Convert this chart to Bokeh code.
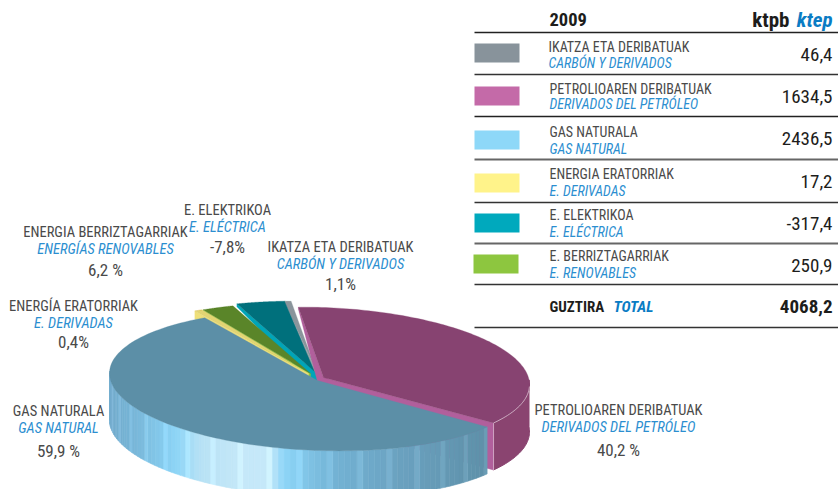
import numpy as np
from bokeh.plotting import figure
from bokeh.models import Range1d
from bokeh.core.properties import value
from bokeh.embed import file_html
from bokeh.resources import INLINE

# ---------- data ----------
year = "2009"
unit_eu = "ktpb"
unit_es = "ktep"
names_eu = ["IKATZA ETA DERIBATUAK", "PETROLIOAREN DERIBATUAK", "GAS NATURALA",
            "ENERGIA ERATORRIAK", "E. ELEKTRIKOA", "E. BERRIZTAGARRIAK"]
names_es = ["CARBÓN Y DERIVADOS", "DERIVADOS DEL PETRÓLEO", "GAS NATURAL",
            "E. DERIVADAS", "E. ELÉCTRICA", "E. RENOVABLES"]
ktep = [46.4, 1634.5, 2436.5, 17.2, -317.4, 250.9]
ktep_labels = ["46,4", "1634,5", "2436,5", "17,2", "-317,4", "250,9"]
total_label = "4068,2"
swatches = ["#88939b", "#c46aa8", "#8ed8f8", "#fff38a", "#00a9bd", "#8dc63f"]

pie_eu = ["IKATZA ETA DERIBATUAK", "PETROLIOAREN DERIBATUAK", "GAS NATURALA",
          "ENERGÍA ERATORRIAK", "E. ELEKTRIKOA", "ENERGIA BERRIZTAGARRIAK"]
pie_es = ["CARBÓN Y DERIVADOS", "DERIVADOS DEL PETRÓLEO", "GAS NATURAL",
          "E. DERIVADAS", "E. ELÉCTRICA", "ENERGÍAS RENOVABLES"]
pie_pct = ["1,1%", "40,2 %", "59,9 %", "0,4%", "-7,8%", "6,2 %"]

# ---------- geometry of the drawing (window pixels) ----------
order = [0, 1, 2, 3, 5, 4]                 # clockwise round the pie
ang_scale = {0: .56, 1: 1.05, 2: 1.082, 3: 1.75, 5: .48, 4: .56}   # perspective squeeze
gap_after = {0: 0, 1: 1, 2: -.3, 3: -.3, 5: 0, 4: 0}
start_t = 99.0
centre = {0: (316, 371), 1: (323, 377), 2: (317, 380), 3: (308, 373), 5: (310, 373), 4: (314, 371)}
rx = {0: 208, 1: 206, 2: 208, 3: 208, 5: 208, 4: 208}
RY, DEPTH, SHEAR = 70, 47, .035
top_col = {0: "#8a959c", 1: "#874371", 2: "#5c8fa7", 3: "#e2d473", 5: "#5a8529", 4: "#00707c"}
cut_col = {0: "#9aa4aa", 1: "#b15f9c", 2: "#5c8fa7", 3: "#efe07a", 5: "#8cc63f", 4: "#00a5b8"}
cut_out = {0: 1, 1: 2, 2: 0, 3: 8, 5: 2, 4: 3}
cut_in = {0: 10, 1: 12, 2: 0, 3: 8, 5: 5, 4: 9}
cut_w = {0: 4, 1: 4, 2: 0, 3: 0, 5: 0, 4: 4}
wall_x = [105, 130, 175, 200, 240, 270, 283, 330, 400, 490]
wall_r = [0x72, 0x76, 0x8d, 0xb8, 0xc5, 0xc5, 0x8e, 0x74, 0x6b, 0x5e]
wall_g = [0xaa, 0xb4, 0xd5, 0xe2, 0xe8, 0xe8, 0xd6, 0xb4, 0xa2, 0x90]
wall_b = [0xcc, 0xd6, 0xf7, 0xf5, 0xf9, 0xf9, 0xf8, 0xd6, 0xc0, 0xa8]

W, H = 838, 489
p = figure(width=W, height=H, x_range=Range1d(0, W), y_range=Range1d(H, 0),
           output_backend="svg", toolbar_location=None, min_border=0)
p.axis.visible = False
p.grid.visible = False
p.outline_line_color = None


def pt(i, t):
    cx, cy = centre[i]
    r = np.radians(t)
    dx = rx[i] * np.cos(r)
    return cx + dx, cy - RY * np.sin(r) + SHEAR * dx


# angular extents follow the absolute values of the series
tot = sum(abs(v) for v in ktep)
ext = {}
t = start_t
for i in order:
    span = abs(ktep[i]) / tot * 360 * ang_scale[i]
    ext[i] = (t, t - span)
    t = t - span - gap_after[i]

# ---------- pie, back to front ----------
for i in [0, 4, 5, 3, 1, 2]:
    t1, t2 = ext[i]
    ts = np.linspace(t1, t2, 121)
    ax, ay = pt(i, ts)
    cx, cy = centre[i]
    if i == 1:          # petroleum: outer wall and end face
        fr = ts[ts < 5]
        fx, fy = pt(i, fr)
        p.patch(list(fx) + list(fx[::-1]), list(fy) + list(fy[::-1] + DEPTH),
                fill_color="#8a4470", line_color="#8a4470")
        ex, ey = pt(i, t2)
        p.patch([cx, ex, ex, cx], [cy, ey, ey + DEPTH, cy + DEPTH],
                fill_color=cut_col[i], line_color=cut_col[i], line_width=.5)
        p.line([ex, ex], [ey, ey + DEPTH], line_color="#d9b8cf", line_width=.8)
    if i == 2:          # natural gas: striped outer wall
        fr = ts[np.sin(np.radians(ts)) < .05]
        fx, fy = pt(i, fr)
        for k in range(0, len(fr) - 1):
            mid = (fx[k] + fx[k + 1]) / 2
            c = [np.interp(mid, wall_x, ch) for ch in (wall_r, wall_g, wall_b)]
            if k % 5 == 0:
                c = [min(255, v + 12) for v in c]
            col = "#%02x%02x%02x" % tuple(int(v) for v in c)
            p.patch([fx[k], fx[k + 1], fx[k + 1], fx[k]],
                    [fy[k], fy[k + 1], fy[k + 1] + DEPTH, fy[k] + DEPTH],
                    fill_color=col, line_color=col, line_width=.6)
    if i != 2:          # visible strip of the left cut face
        lx, ly = pt(i, t1)
        w = cut_w[i]
        p.patch([cx + w, cx, lx, lx, cx - w, cx + w],
                [cy, cy, ly, ly + cut_out[i], cy + cut_in[i], cy + cut_in[i]],
                fill_color=cut_col[i], line_color=cut_col[i], line_width=.3)
    p.patch([cx] + list(ax), [cy] + list(ay),
            fill_color=top_col[i], line_color=top_col[i], line_width=.3)
    if i == 1:
        hi = ts[ts < -1]
        hx, hy = pt(i, hi)
        p.line(hx, hy, line_color="#d9c0d0", line_width=.8)

# ---------- fonts ----------
NARROW = value("Roboto Condensed")
GREY, BLUE, INK = "#4a4a4a", "#2b8ed0", "#1d1d1b"


def txt(x, y, s, size, color, align="left", style="normal"):
    p.text(x=[x], y=[y], text=[s], text_font=NARROW, text_font_size=size,
           text_color=color, text_align=align, text_baseline="middle",
           text_font_style=style)


# ---------- pie labels ----------
lab_pos = {0: (340, 247, 264, 283), 1: (618, 410, 427, 449), 2: (58, 411, 428, 450),
           3: (73, 306, 323, 341), 4: (227, 210, 227, 246), 5: (105, 232, 249, 269)}
for i in range(6):
    x, y1, y2, y3 = lab_pos[i]
    txt(x, y1, pie_eu[i], "14.5px", GREY, "center")
    txt(x, y2, pie_es[i], "14.5px", BLUE, "center", "italic")
    txt(x, y3, pie_pct[i], "17px", GREY, "center")

# ---------- table ----------
RIGHT = 832
txt(549, 19, year, "18.5px", INK, "left", "bold")
txt(789, 19, unit_eu, "21px", INK, "right", "bold")
txt(RIGHT, 19, unit_es, "21px", "#0a7cc4", "right", "bold italic")

rule_y = [32, 74, 116, 159, 202, 243, 284, 327]
rule_w = [1.6, 1.4, 1.4, 2, 1.4, 2, 1.4, 1.4]
rule_c = ["#222222", "#333333", "#222222", "#666666", "#333333", "#666666", "#333333", "#333333"]
for y, w, c in zip(rule_y, rule_w, rule_c):
    p.line([474, 838], [y, y], line_color=c, line_width=w)

swatch_y = [52.5, 95.5, 139.5, 182.5, 222.5, 263.5]
swatch_x = [474, 474, 474, 474, 474, 473]
name_y1 = [46, 88, 131, 173, 214, 255]
name_y2 = [62, 103, 148, 190, 231, 272]
num_y = [54, 96, 138, 181, 223, 265]
name_x = [548, 549, 549, 549, 549, 549]
for i in range(6):
    p.quad(left=[swatch_x[i]], right=[swatch_x[i] + 45], top=[swatch_y[i] - 9.5], bottom=[swatch_y[i] + 9.5],
           fill_color=swatches[i], line_color=None)
    txt(name_x[i], name_y1[i], names_eu[i], "14px", GREY)
    txt(name_x[i], name_y2[i], names_es[i], "14px", BLUE, "left", "italic")
    txt(RIGHT, num_y[i], ktep_labels[i], "19px", INK, "right")

txt(549, 306, "GUZTIRA", "15px", INK, "left", "bold")
txt(613, 306, "TOTAL", "15.5px", "#0a7cc4", "left", "bold italic")
txt(RIGHT, 306, total_label, "19px", INK, "right", "bold")

open("out.html", "w").write(file_html(p, INLINE))
